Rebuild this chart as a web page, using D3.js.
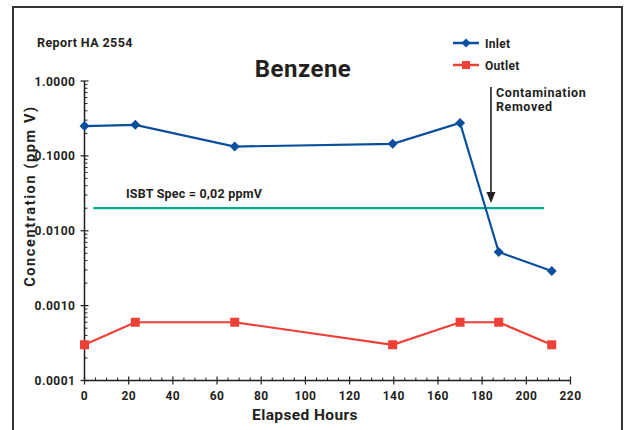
<!DOCTYPE html>
<html><head><meta charset="utf-8">
<script src="https://cdn.jsdelivr.net/npm/d3@7"></script>
<style>
html,body{margin:0;padding:0;background:#fff;}
svg{display:block;font-family:Roboto,"DejaVu Sans",sans-serif;font-weight:700;fill:#231f20;}
</style></head><body>
<svg id="c" width="629" height="430"></svg>
<script>
const hours = [0, 23, 68, 139.5, 170, 187.5, 211.5];
const inlet = [0.25, 0.26, 0.133, 0.145, 0.275, 0.0052, 0.0029];
const outlet = [0.0003, 0.0006, 0.0006, 0.0003, 0.0006, 0.0006, 0.0003];
const yTicks = [0.0001, 0.001, 0.01, 0.1, 1];
const xTicks = [0, 20, 40, 60, 80, 100, 120, 140, 160, 180, 200, 220];
const specValue = 0.02;
const specRange = [4, 208];
const arrowX = 184;

const svg = d3.select("#c");
const ink = "#231f20";
const blue = "#0a4f9e", red = "#ee4036", teal = "#00a98f";

svg.append("rect").attr("x",13).attr("y",7).attr("width",609).attr("height",440)
  .attr("fill","none").attr("stroke","#333").attr("stroke-width",2);

const x = d3.scaleLinear().domain([0,220]).range([84.5,570.5]);
const y = d3.scaleLog().domain([0.0001,1]).range([380.5,81]);

// axes
const g = svg.append("g");
g.append("line").attr("x1",x(0)).attr("x2",x(0)).attr("y1",y(1)).attr("y2",y(0.0001)).attr("stroke",ink).attr("stroke-width",1.5);
g.append("line").attr("x1",x(0)).attr("x2",x(220)).attr("y1",y(0.0001)).attr("y2",y(0.0001)).attr("stroke",ink).attr("stroke-width",1.5);
const minorY = [];
for (let d=0; d<4; d++) for (let m=2; m<=9; m++) minorY.push(m*yTicks[d]);
g.selectAll(".my").data(minorY).join("line")
  .attr("x1",x(0)).attr("x2",x(0)+3).attr("y1",d=>y(d)).attr("y2",d=>y(d)).attr("stroke",ink).attr("stroke-width",1);
g.selectAll(".My").data(yTicks).join("line")
  .attr("x1",x(0)-4).attr("x2",x(0)+4).attr("y1",d=>y(d)).attr("y2",d=>y(d)).attr("stroke",ink).attr("stroke-width",1.2);
g.selectAll(".yl").data(yTicks).join("text")
  .attr("x",x(0)-9).attr("y",d=>y(d)+4.5).attr("text-anchor","end").attr("font-size",12).attr("letter-spacing",0.5)
  .text(d=>d3.format(".4f")(d));
const minorX = d3.range(0,221,5).filter(v=>v%20!==0);
g.selectAll(".mx").data(minorX).join("line")
  .attr("x1",d=>x(d)).attr("x2",d=>x(d)).attr("y1",y(0.0001)).attr("y2",y(0.0001)-3).attr("stroke",ink).attr("stroke-width",1);
g.selectAll(".Mx").data(xTicks).join("line")
  .attr("x1",d=>x(d)).attr("x2",d=>x(d)).attr("y1",y(0.0001)-4).attr("y2",y(0.0001)+4).attr("stroke",ink).attr("stroke-width",1.2);
g.selectAll(".xl").data(xTicks).join("text")
  .attr("x",d=>x(d)).attr("y",400).attr("text-anchor","middle").attr("font-size",12).attr("letter-spacing",0.4)
  .text(d=>d);

svg.append("text").attr("x",305).attr("y",420).attr("text-anchor","middle").attr("font-size",15.5).attr("letter-spacing",0.4).text("Elapsed Hours");
svg.append("text").attr("transform","translate(35,196) rotate(-90)").attr("text-anchor","middle").attr("font-size",14.5).attr("letter-spacing",1.6).text("Concentration (ppm V)");
svg.append("text").attr("x",303).attr("y",77).attr("text-anchor","middle").attr("font-size",24).attr("letter-spacing",0.5).text("Benzene");
svg.append("text").attr("x",37).attr("y",47).attr("font-size",12.5).attr("letter-spacing",0.4).text("Report HA 2554");

// spec line
svg.append("line").attr("x1",x(specRange[0])).attr("x2",x(specRange[1])).attr("y1",y(specValue)).attr("y2",y(specValue))
  .attr("stroke",teal).attr("stroke-width",2.2);
svg.append("text").attr("x",126).attr("y",198).attr("font-size",12.5).attr("letter-spacing",0.2).text("ISBT Spec = 0,02 ppmV");

// arrow
svg.append("line").attr("x1",x(arrowX)).attr("x2",x(arrowX)).attr("y1",87).attr("y2",196).attr("stroke",ink).attr("stroke-width",1.6);
svg.append("path").attr("d",`M${x(arrowX)-4.5},192 L${x(arrowX)+4.5},192 L${x(arrowX)},203 Z`).attr("fill",ink);
const ann = svg.append("text").attr("x",x(arrowX)+5).attr("y",97).attr("font-size",12.5).attr("letter-spacing",0.6);
ann.append("tspan").attr("x",x(arrowX)+5).text("Contamination");
ann.append("tspan").attr("x",x(arrowX)+5).attr("dy",13.5).text("Removed");

// series
const line = d3.line().x(d=>x(d[0])).y(d=>y(d[1]));
const inData = hours.map((h,i)=>[h,inlet[i]]);
const outData = hours.map((h,i)=>[h,outlet[i]]);
svg.append("path").datum(inData).attr("d",line).attr("fill","none").attr("stroke",blue).attr("stroke-width",2.2);
svg.append("path").datum(outData).attr("d",line).attr("fill","none").attr("stroke",red).attr("stroke-width",2.2);
const diamond = s => `M0,${-s} L${s},0 L0,${s} L${-s},0 Z`;
svg.selectAll(".din").data(inData).join("path")
  .attr("transform",d=>`translate(${x(d[0])},${y(d[1])})`).attr("d",diamond(5)).attr("fill",blue);
svg.selectAll(".sq").data(outData).join("rect")
  .attr("x",d=>x(d[0])-4.5).attr("y",d=>y(d[1])-4.5).attr("width",9).attr("height",9).attr("fill",red);

// legend
const lg = svg.append("g");
lg.append("line").attr("x1",453).attr("x2",479).attr("y1",43).attr("y2",43).attr("stroke",blue).attr("stroke-width",2.5);
lg.append("path").attr("transform","translate(466,43)").attr("d",diamond(4.5)).attr("fill",blue);
lg.append("text").attr("x",485).attr("y",47.5).attr("font-size",12).attr("letter-spacing",0.3).text("Inlet");
lg.append("line").attr("x1",453).attr("x2",479).attr("y1",65).attr("y2",65).attr("stroke",red).attr("stroke-width",2.5);
lg.append("rect").attr("x",462).attr("y",61).attr("width",8).attr("height",8).attr("fill",red);
lg.append("text").attr("x",485).attr("y",69.5).attr("font-size",12).attr("letter-spacing",0.3).text("Outlet");
</script></body></html>
